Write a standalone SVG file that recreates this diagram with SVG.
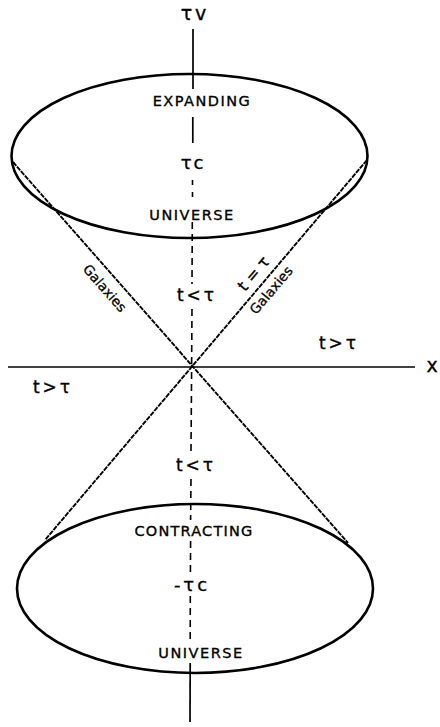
<svg xmlns="http://www.w3.org/2000/svg" width="440" height="727" viewBox="0 0 440 727">
<style>
.bg{fill:#fff}
.ell{fill:none;stroke:#000;stroke-width:2.6}
.axis{fill:none;stroke:#000;stroke-width:1.7}
.dash{fill:none;stroke:#000;stroke-width:1.6;stroke-dasharray:7 5}
.diag{fill:none;stroke:#000;stroke-width:1.9;stroke-dasharray:5 1}
.cap{font-family:"DejaVu Sans",sans-serif;font-size:14.5px;letter-spacing:1.5px;text-anchor:middle;fill:#000;stroke:#000;stroke-width:0.35}
.sym{font-family:"DejaVu Sans",sans-serif;font-size:18px;text-anchor:middle;fill:#000;stroke:#000;stroke-width:0.35}
.gal{font-family:"DejaVu Sans",sans-serif;font-size:13.5px;text-anchor:middle;fill:#000;stroke:#000;stroke-width:0.3}
</style>
<rect class="bg" x="0" y="0" width="440" height="727"/>
<g id="axes">
  <line class="axis" x1="8" y1="367" x2="415" y2="367"/>
  <line class="axis" x1="193" y1="29" x2="193" y2="89"/>
  <line class="axis" x1="192.8" y1="117" x2="192.8" y2="143"/>
  <line class="dash" x1="192.5" y1="180" x2="192.5" y2="200" style="stroke-dasharray:5 7"/>
  <line class="dash" x1="192.3" y1="222" x2="192" y2="284"/>
  <line class="dash" x1="192" y1="309" x2="191.6" y2="366"/>
  <line class="dash" x1="191.6" y1="372" x2="191" y2="452"/>
  <line class="dash" x1="191" y1="479" x2="190.6" y2="520"/>
  <line class="dash" x1="190.6" y1="541" x2="190.4" y2="574"/>
  <line class="dash" x1="190.3" y1="596" x2="190.2" y2="641"/>
  <line class="axis" x1="190.2" y1="663" x2="190" y2="722"/>
</g>
<g id="connectors">
  <line class="diag" x1="13" y1="162" x2="348" y2="543"/>
  <line class="diag" x1="367" y1="160" x2="45" y2="540"/>
</g>
<g id="expanding-universe">
  <ellipse class="ell" cx="189.5" cy="156" rx="178" ry="82"/>
  <text class="cap" x="202" y="106">EXPANDING</text>
  <text class="sym" x="193" y="169" style="letter-spacing:2px">τc</text>
  <text class="cap" x="192" y="220">UNIVERSE</text>
</g>
<g id="contracting-universe">
  <ellipse class="ell" cx="195" cy="588.5" rx="178" ry="84.5"/>
  <text class="cap" x="194" y="536" style="letter-spacing:1.2px">CONTRACTING</text>
  <text class="sym" x="192" y="591" style="letter-spacing:3px">-τc</text>
  <text class="cap" x="201" y="658">UNIVERSE</text>
</g>
<g id="labels">
  <text class="sym" x="195" y="20" style="font-size:19px;letter-spacing:3px">τv</text>
  <text class="sym" x="432" y="372" style="font-size:19px">x</text>
  <text class="sym" x="339" y="349" style="font-size:17px;letter-spacing:3px">t&gt;τ</text>
  <text class="sym" x="53" y="393" style="font-size:17px;letter-spacing:3px">t&gt;τ</text>
  <text class="sym" x="197" y="301" style="font-size:17px;letter-spacing:3px">t&lt;τ</text>
  <text class="sym" x="196" y="471" style="font-size:17px;letter-spacing:3px">t&lt;τ</text>
  <text class="gal" transform="translate(105,288) rotate(48.7)" x="0" y="5">Galaxies</text>
  <text class="gal" transform="translate(271,290) rotate(-49.7)" x="0" y="5">Galaxies</text>
  <text class="sym" transform="translate(254,274) rotate(-49.7)" x="0" y="5" style="font-size:16px">t = τ</text>
</g>
</svg>
